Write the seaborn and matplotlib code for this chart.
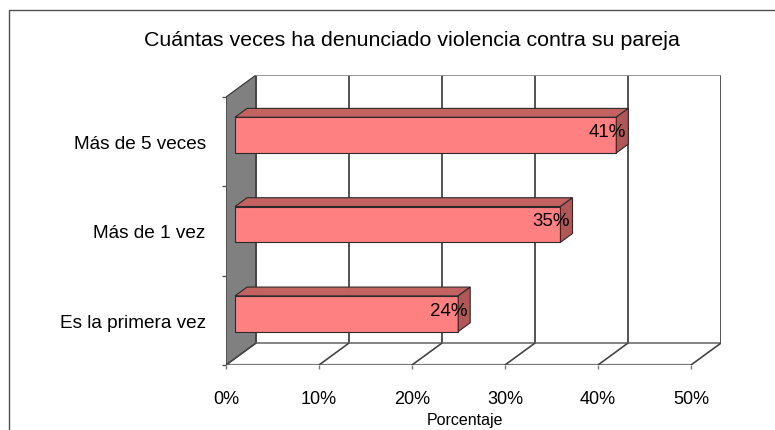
import matplotlib
matplotlib.use("Agg")
import matplotlib.pyplot as plt
import matplotlib.patches as mpatches
import seaborn as sns
import numpy as np

categories = ["Más de 5 veces", "Más de 1 vez", "Es la primera vez"]
values = [41, 35, 24]
value_labels = ["41%", "35%", "24%"]
xticks = [0, 10, 20, 30, 40, 50]
xtick_labels = ["0%", "10%", "20%", "30%", "40%", "50%"]
title = "Cuántas veces ha denunciado violencia contra su pareja"
xlabel = "Porcentaje"

sns.set_theme(style="white")
plt.rcParams['font.family'] = ['Liberation Sans', 'DejaVu Sans']
plt.rcParams['text.color'] = 'black'
plt.rcParams['axes.labelcolor'] = 'black'
plt.rcParams['xtick.labelcolor'] = 'black'
plt.rcParams['ytick.labelcolor'] = 'black'

W, H = 775, 431
fig = plt.figure(figsize=(W / 100, H / 100), dpi=100)

# oblique 3D depth offsets (data units)
DX = 3.23
DY = -0.246
XMAX = 50
n = len(categories)
ybot = n - 0.5
ytop = -0.5

# axes placement in pixels
px_left, px_right = 226, 721
px_bottom, px_top = 366, 76
ax = fig.add_axes([px_left / W, (H - px_bottom) / H,
                   (px_right - px_left) / W, (px_bottom - px_top) / H])
ax.patch.set_alpha(0)

sns.barplot(x=values, y=categories, orient="h", ax=ax, color="#FF8080",
            saturation=1, width=0.4, edgecolor="#2a2a2a", linewidth=0.8, zorder=5)

ax.set_xlim(0, XMAX + DX)
ax.set_ylim(ybot, ytop + DY)
for s in ax.spines.values():
    s.set_visible(False)

grid_c = "#454545"
floor_c = "#7a7a7a"

# left wall
wall = mpatches.Polygon([(0, ybot), (DX, ybot + DY), (DX, ytop + DY), (0, ytop)],
                        closed=True, facecolor="#808080", edgecolor="#303030",
                        linewidth=0.8, zorder=1)
ax.add_patch(wall)

# back wall gridlines
for t in xticks:
    ax.plot([t + DX, t + DX], [ybot + DY, ytop + DY], color=grid_c, lw=1.3, zorder=2,
            solid_capstyle="butt")
# back wall top edge
ax.plot([DX, XMAX + DX], [ytop + DY, ytop + DY], color="#909090", lw=1.3, zorder=2)
# floor back edge
ax.plot([DX, XMAX + DX], [ybot + DY, ybot + DY], color=floor_c, lw=1.3, zorder=2)
# floor front edge
ax.plot([0, XMAX], [ybot, ybot], color=floor_c, lw=1.6, zorder=2)
# floor diagonals
for t in xticks:
    ax.plot([t, t + DX], [ybot, ybot + DY], color=grid_c, lw=1.2, zorder=2)

# shift bars to their depth plane and add 3D faces
d1 = 0.3
dd = 0.4
bars = [p for p in ax.patches if isinstance(p, mpatches.Rectangle)
        and p.get_width() > 0 and p.get_height() < 1]
for p in bars:
    p.set_x(p.get_x() + d1 * DX)
    p.set_y(p.get_y() + d1 * DY)

for p in bars:
    x0, y0, w, h = p.get_x(), p.get_y(), p.get_width(), p.get_height()
    top = mpatches.Polygon([(x0, y0), (x0 + w, y0), (x0 + w + dd * DX, y0 + dd * DY),
                            (x0 + dd * DX, y0 + dd * DY)], closed=True,
                           facecolor="#C46262", edgecolor="#2a2a2a", linewidth=0.8, zorder=5)
    side = mpatches.Polygon([(x0 + w, y0), (x0 + w, y0 + h),
                             (x0 + w + dd * DX, y0 + h + dd * DY),
                             (x0 + w + dd * DX, y0 + dd * DY)], closed=True,
                            facecolor="#B05858", edgecolor="#2a2a2a", linewidth=0.8, zorder=5)
    ax.add_patch(top)
    ax.add_patch(side)

# data labels
for i, (v, lab) in enumerate(zip(values, value_labels)):
    ax.text(v + (d1 + dd) * DX - 0.3, i + d1 * DY - 0.04, lab, ha="right", va="center",
            fontsize=13.5, color="black", zorder=7)

# x ticks
ax.set_xticks(xticks)
ax.set_xticklabels(xtick_labels, fontsize=13)
ax.tick_params(axis="x", which="major", direction="out", length=3, width=1,
               color=floor_c, pad=15, bottom=True, labelsize=13, labelcolor="black")

# y ticks: labels at category centers, tick marks at boundaries
ax.set_yticks(range(n))
ax.set_yticklabels(categories, fontsize=13.7)
ax.set_yticks(np.arange(-0.5, n, 1.0), minor=True)
ax.tick_params(axis="y", which="major", length=0, pad=14.5, left=True, labelcolor="black")
ax.tick_params(axis="y", which="minor", direction="out", length=3, width=1,
               color="#505050", left=True)
ax.set_ylabel("")

ax.set_xlabel(xlabel, fontsize=11.5, color="black")
ax.xaxis.label.set_va("center")
ax.xaxis.set_label_coords((465 - px_left) / (px_right - px_left),
                          -(421 - px_bottom) / (px_bottom - px_top))

fig.text(412 / W, 1 - 40 / H, title, ha="center", va="center", fontsize=15.4, color="black")

# outer chart border (extends beyond image on right/bottom)
fig.patches.append(mpatches.Rectangle((9 / W, -0.1), 1.2, 1 - 11 / H + 0.1,
                                      transform=fig.transFigure, fill=False,
                                      edgecolor="#505050", linewidth=1.0))

fig.savefig("out.png", dpi=100)
